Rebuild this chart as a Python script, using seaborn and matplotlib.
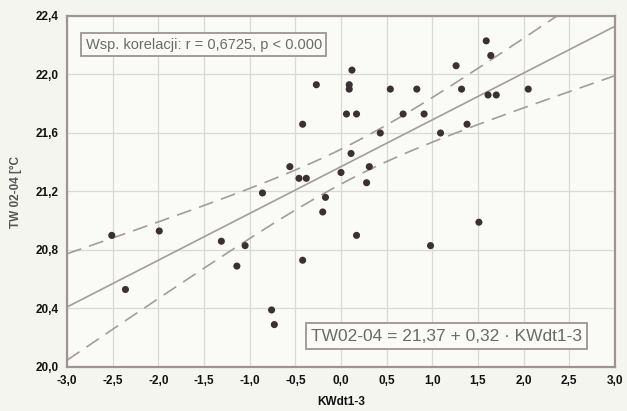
import numpy as np
import pandas as pd
import matplotlib
matplotlib.use("Agg")
import matplotlib.pyplot as plt
from matplotlib.ticker import FuncFormatter
import seaborn as sns

# Observations: KWdt1-3 (x) against TW02-04 (y)
kwdt = [-2.51, -2.36, -1.99, -1.31, -1.14, -1.05, -0.76, -0.73, -0.42, -0.86,
        -0.46, -0.38, -0.17, -0.20, 0.00, 0.28, 0.17, 0.12, -0.27, 0.09,
        0.09, 0.54, 0.83, -0.42, 0.06, 0.17, 0.68, 0.43, 0.11, -0.56,
        0.31, 0.91, 1.09, 1.26, 1.32, 1.38, 1.59, 1.64, 1.61, 1.70,
        2.05, 0.98, 1.51]
tw = [20.90, 20.53, 20.93, 20.86, 20.69, 20.83, 20.39, 20.29, 20.73, 21.19,
      21.29, 21.29, 21.16, 21.06, 21.33, 21.26, 20.90, 22.03, 21.93, 21.93,
      21.90, 21.90, 21.90, 21.66, 21.73, 21.73, 21.73, 21.60, 21.46, 21.37,
      21.37, 21.73, 21.60, 22.06, 21.90, 21.66, 22.23, 22.13, 21.86, 21.86,
      21.90, 20.83, 20.99]

# Fitted model as reported
intercept = 21.37
slope = 0.32
corr_text = "Wsp. korelacji: r = 0,6725, p < 0.000"
eq_text = "TW02-04 = 21,37 + 0,32 · KWdt1-3"
x_label = "KWdt1-3"
y_label = "TW 02-04 [°C"

x_ticks = [-3.0, -2.5, -2.0, -1.5, -1.0, -0.5, 0.0, 0.5, 1.0, 1.5, 2.0, 2.5, 3.0]
y_ticks = [20.0, 20.4, 20.8, 21.2, 21.6, 22.0, 22.4]

df = pd.DataFrame({"KWdt1-3": kwdt, "TW02-04": tw})

# 95% confidence band of the mean response
x = np.asarray(kwdt)
y = np.asarray(tw)
n = len(x)
resid = y - (intercept + slope * x)
s = np.sqrt(np.sum(resid ** 2) / (n - 2))
sxx = np.sum((x - x.mean()) ** 2)
t_crit = 2.02
xs = np.linspace(-3, 3, 200)
fit = intercept + slope * xs
hw = t_crit * s * np.sqrt(1.0 / n + (xs - x.mean()) ** 2 / sxx)
band = pd.DataFrame({"x": xs, "fit": fit, "lo": fit - hw, "hi": fit + hw})

sns.set_theme(style="white")
plt.rcParams["font.family"] = ["Liberation Sans", "DejaVu Sans"]

fig = plt.figure(figsize=(6.27, 4.11), dpi=100, facecolor="#f5f5f0")
ax = fig.add_axes([67 / 627, 1 - 367 / 411, (615 - 67) / 627, (367 - 16) / 411])
ax.set_facecolor("#fafaf6")

line_col = "#a39c9c"
sns.lineplot(data=band, x="x", y="fit", ax=ax, color=line_col, lw=1.2)
for col in ("lo", "hi"):
    sns.lineplot(data=band, x="x", y=col, ax=ax, color=line_col, lw=1.2,
                 linestyle=(0, (9, 5)))
sns.scatterplot(data=df, x="KWdt1-3", y="TW02-04", ax=ax, color="#3b3033",
                s=26, edgecolor="none", zorder=5)

ax.set_xlim(-3, 3)
ax.set_ylim(20.0, 22.4)
ax.set_xticks(x_ticks)
ax.set_yticks(y_ticks)
fmt = FuncFormatter(lambda v, p: f"{v:.1f}".replace(".", ","))
ax.xaxis.set_major_formatter(fmt)
ax.yaxis.set_major_formatter(fmt)
ax.tick_params(axis="both", length=0, pad=6, labelsize=8.5, colors="#111111")
for lab in ax.get_xticklabels() + ax.get_yticklabels():
    lab.set_fontweight("bold")

ax.grid(True, color="#d9d9d6", lw=0.9)
for sp in ax.spines.values():
    sp.set_visible(True)
    sp.set_color("#9e9494")
    sp.set_linewidth(1.6)

ax.set_xlabel(x_label, fontsize=8.5, fontweight="bold", color="#111111", labelpad=6)
ax.set_ylabel(y_label, fontsize=8.5, fontweight="bold", color="#555555", labelpad=10)

box_style = dict(boxstyle="square,pad=0.3", facecolor="#fafaf6", edgecolor="#9e9494", lw=1.3)
ax.text(0.034, 0.918, corr_text, transform=ax.transAxes, fontsize=10.5,
        color="#6a6a6a", va="center", ha="left", bbox=box_style, zorder=6)
ax.text(0.445, 0.088, eq_text, transform=ax.transAxes, fontsize=12.5,
        color="#6a6a6a", va="center", ha="left", bbox=box_style, zorder=6)

fig.savefig("out.png", dpi=100, facecolor=fig.get_facecolor())
